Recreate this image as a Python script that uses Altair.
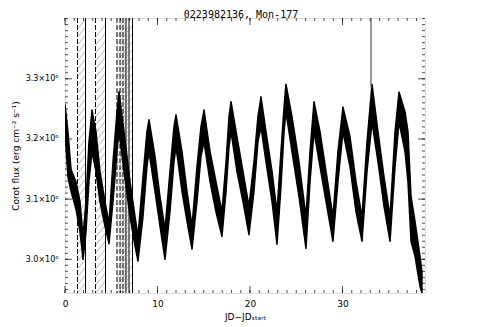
import altair as alt
import pandas as pd

# ---- data ----
t = [0.00, 0.32, 0.65, 1.19, 1.62, 1.95, 2.27, 2.59, 2.92, 3.35, 3.78, 4.32, 4.76, 5.19,
     5.62, 5.84, 6.38, 7.03, 7.57, 7.89, 8.43, 8.86, 9.08, 9.73, 10.27, 10.81, 11.35,
     11.78, 12.00, 12.65, 13.19, 13.73, 14.27, 14.70, 15.03, 15.68, 16.32, 16.97, 17.41,
     17.73, 17.95, 18.59, 19.24, 19.89, 20.43, 20.86, 21.19, 21.73, 22.38, 22.92, 23.35,
     23.68, 23.89, 24.54, 25.30, 26.05, 26.49, 26.92, 27.57, 28.22, 28.97, 29.51, 30.05,
     30.81, 31.46, 32.11, 32.65, 33.19, 33.84, 34.49, 35.14, 35.68, 36.11, 36.76, 37.08,
     37.41, 37.84, 38.38, 38.59]
flux_hi = [3.257, 3.212, 3.149, 3.129, 3.096, 3.038, 3.096, 3.195, 3.248, 3.212, 3.146,
           3.096, 3.060, 3.162, 3.245, 3.278, 3.212, 3.129, 3.071, 3.038, 3.137, 3.212,
           3.232, 3.171, 3.104, 3.050, 3.146, 3.220, 3.240, 3.179, 3.113, 3.055, 3.154,
           3.220, 3.248, 3.179, 3.129, 3.079, 3.162, 3.237, 3.262, 3.204, 3.146, 3.088,
           3.162, 3.237, 3.270, 3.212, 3.146, 3.079, 3.179, 3.253, 3.291, 3.237, 3.162,
           3.071, 3.179, 3.262, 3.212, 3.146, 3.071, 3.179, 3.253, 3.204, 3.129, 3.071,
           3.195, 3.291, 3.212, 3.137, 3.071, 3.212, 3.278, 3.245, 3.212, 3.104, 3.063,
           3.005, 2.980]
flux_lo = [3.212, 3.137, 3.113, 3.083, 3.046, 3.000, 3.046, 3.129, 3.179, 3.146, 3.096,
           3.055, 3.026, 3.096, 3.179, 3.212, 3.146, 3.071, 3.022, 2.997, 3.071, 3.154,
           3.179, 3.113, 3.055, 3.000, 3.079, 3.162, 3.187, 3.113, 3.063, 3.017, 3.096,
           3.171, 3.195, 3.129, 3.079, 3.038, 3.113, 3.187, 3.212, 3.146, 3.096, 3.041,
           3.113, 3.195, 3.220, 3.162, 3.096, 3.025, 3.121, 3.212, 3.245, 3.179, 3.104,
           3.018, 3.129, 3.212, 3.154, 3.096, 3.030, 3.129, 3.212, 3.154, 3.079, 3.030,
           3.146, 3.228, 3.162, 3.088, 3.030, 3.154, 3.228, 3.179, 3.129, 3.030, 3.005,
           2.955, 2.944]
spike_t = [33.08]
spike_lo = [3.285]
spike_hi = [3.401]
gap_start = [1.35, 3.30, 5.62, 5.95, 6.27]
gap_end = [2.22, 4.38, 6.59, 6.92, 7.30]
x_major = [0, 10, 20, 30]
x_minor = list(range(0, 39))
y_major = [3.0, 3.1, 3.2, 3.3]
y_minor = [round(2.95 + 0.01 * i, 2) for i in range(46)]
title_text = ["0223982136, Mon-177"]

# ---- layout ----
W, H = 360, 275
XDOM = [0, 38.92]
YDOM = [2.944, 3.401]
PX_X = W / (XDOM[1] - XDOM[0])
PX_Y = H / (YDOM[1] - YDOM[0])
FONT = "DejaVu Sans"

xs = alt.Scale(domain=XDOM, nice=False, zero=False)
ys = alt.Scale(domain=YDOM, nice=False, zero=False)

curve = pd.DataFrame({"t": t, "hi": flux_hi, "lo": flux_lo})

# hatch segments derived from the gap regions
rows = []
for a, b in zip(gap_start, gap_end):
    rise = 1.2 * (b - a) * PX_X / PX_Y
    step = 8 / PX_Y
    y = YDOM[0]
    while y + rise < YDOM[1]:
        rows.append({"x0": a, "x1": b, "y0": y, "y1": y + rise})
        y += step
hatch = pd.DataFrame(rows)
edges_l = pd.DataFrame({"t": gap_start})
edges_r = pd.DataFrame({"t": gap_end})

x_axis = alt.Axis(values=x_major, ticks=False, domain=False, grid=False,
                  labelFont=FONT, labelFontSize=9, labelColor="black",
                  labelFlush=False, labelPadding=6, title="JD−JDₛₜₐᵣₜ",
                  titleFont=FONT, titleFontSize=9, titleFontWeight="normal",
                  titleColor="black", titlePadding=4)
y_axis = alt.Axis(values=y_major, ticks=False, domain=False, grid=False,
                  labelExpr="format(datum.value, '.1f') + '×10⁶'",
                  labelFont=FONT, labelFontSize=8, labelColor="black",
                  labelFlush=False, labelPadding=7, title="Corot flux (erg cm⁻² s⁻¹)",
                  titleFont=FONT, titleFontSize=9, titleFontWeight="normal",
                  titleColor="black", titlePadding=5)


def X(field):
    return alt.X(field, scale=xs, axis=x_axis)


def Y(field):
    return alt.Y(field, scale=ys, axis=y_axis)


hatch_layer = alt.Chart(hatch).mark_rule(color="#a0a0a0", strokeWidth=0.8, clip=True).encode(
    x=X("x0:Q"), x2="x1:Q", y=Y("y0:Q"), y2="y1:Q")

edge_l_layer = alt.Chart(edges_l).mark_rule(color="black", strokeWidth=1, strokeDash=[5, 2]).encode(
    x=X("t:Q"))
edge_r_layer = alt.Chart(edges_r).mark_rule(color="black", strokeWidth=1).encode(
    x=X("t:Q"))

band = alt.Chart(curve).mark_area(color="black", stroke="black", strokeWidth=1.5,
                                  strokeJoin="round", clip=True).encode(
    x=X("t:Q"), y=Y("hi:Q"), y2="lo:Q")

spike = alt.Chart(pd.DataFrame({"t": spike_t, "lo": spike_lo, "hi": spike_hi})).mark_rule(
    color="#777777", strokeWidth=1.5, clip=True).encode(
    x=X("t:Q"), y=Y("lo:Q"), y2="hi:Q")


def xticks(vals, size, top):
    yv = size / 2 if top else H - size / 2
    return alt.Chart(pd.DataFrame({"t": vals})).mark_tick(
        orient="vertical", size=size, thickness=1, color="black").encode(
        x=X("t:Q"), y=alt.value(yv))


def yticks(vals, size, right):
    xv = W - size / 2 if right else size / 2
    return alt.Chart(pd.DataFrame({"f": vals})).mark_tick(
        orient="horizontal", size=size, thickness=1, color="black").encode(
        y=Y("f:Q"), x=alt.value(xv))


title_layer = alt.Chart(pd.DataFrame({"s": title_text})).mark_text(
    font="DejaVu Sans Mono", fontSize=10, color="black", align="center",
    baseline="alphabetic").encode(
    text="s:N", x=alt.value(W / 2 - 4), y=alt.value(-0.5))

chart = alt.layer(
    hatch_layer, edge_l_layer, edge_r_layer, band, spike,
    xticks(x_minor, 3, False), xticks(x_minor, 3, True),
    xticks(x_major, 7, False), xticks(x_major, 7, True),
    yticks(y_minor, 3, False), yticks(y_minor, 3, True),
    yticks(y_major, 7, False), yticks(y_major, 7, True),
    title_layer,
).properties(
    width=W, height=H,
    autosize=alt.AutoSizeParams(type="none"),
    padding={"left": 57, "top": 10, "right": 50, "bottom": 30},
).configure_view(stroke="black", strokeWidth=1).configure(background="white")

chart.save("out.html", embed_options={"renderer": "svg", "actions": False})
